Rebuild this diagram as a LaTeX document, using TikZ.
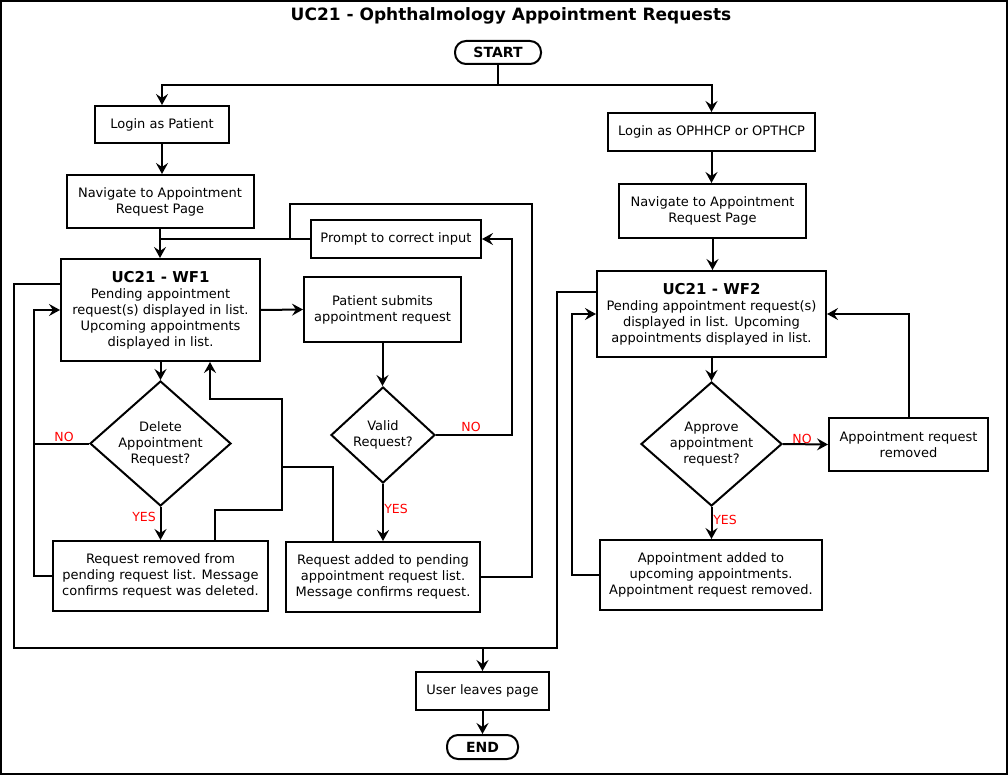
\documentclass[tikz,border=0pt]{standalone}
\usepackage{fontspec}
\setmainfont{DejaVu Sans}
\usetikzlibrary{shapes.geometric,arrows.meta}
\begin{document}
\begin{tikzpicture}[x=1pt,y=-1pt,
  conn/.style={line width=2pt},
  arr/.style={conn,-{Stealth[length=11pt,width=12pt,inset=4pt]}},
  box/.style={draw,line width=2pt,fill=white,align=center,inner sep=2pt,font=\fontsize{13}{16}\selectfont},
  dia/.style={draw,line width=2pt,diamond,aspect=1.2,inner sep=0pt,align=center,font=\fontsize{13}{16}\selectfont},
  term/.style={draw,line width=2pt,rounded corners=11pt,align=center,inner sep=0pt,font=\fontsize{14}{16}\selectfont\bfseries},
  lbl/.style={text=red,inner sep=0pt,font=\fontsize{12.5}{14}\selectfont},
  hd/.style={font=\fontsize{15}{17}\selectfont\bfseries}]
\useasboundingbox (0,0) rectangle (1008,775);
\draw[line width=2pt] (1,1) rectangle (1007,774);
\node[font=\fontsize{17}{20}\selectfont\bfseries] (title) at (511,16) {UC21 - Ophthalmology Appointment Requests};
% nodes
\node[term,minimum width=86pt,minimum height=23pt] (start) at (498,52.5) {START};
\node[box,minimum width=134pt,minimum height=37pt] (loginP) at (162,124.5) {Login as Patient};
\node[box,minimum width=187pt,minimum height=53pt] (navL) at (160,201.5) {Navigate to Appointment\\Request Page};
\node[box,minimum width=170pt,minimum height=38pt] (prompt) at (396,239) {Prompt to correct input};
\node[box,minimum width=199pt,minimum height=102pt] (wf1) at (160.5,310) {{\fontsize{15}{17}\selectfont\bfseries UC21 - WF1}\\Pending appointment\\request(s) displayed in list.\\Upcoming appointments\\displayed in list.};
\node[box,minimum width=157pt,minimum height=65pt] (submit) at (382.5,309.5) {Patient submits\\appointment request};
\node[dia,minimum width=104pt,minimum height=96pt] (valid) at (383,435) {Valid\\Request?};
\node[dia,minimum width=141pt,minimum height=125pt] (delete) at (160.5,443.5) {Delete\\Appointment\\Request?};
\node[box,minimum width=194pt,minimum height=70pt] (added) at (383,577) {Request added to pending\\appointment request list.\\Message confirms request.};
\node[box,minimum width=215pt,minimum height=70pt] (removed) at (160.5,576) {Request removed from\\pending request list. Message\\confirms request was deleted.};
\node[box,minimum width=207pt,minimum height=38pt] (loginO) at (711.5,132) {Login as OPHHCP or OPTHCP};
\node[box,minimum width=187pt,minimum height=54pt] (navR) at (712.5,211) {Navigate to Appointment\\Request Page};
\node[box,minimum width=229pt,minimum height=86pt] (wf2) at (711.5,314) {{\fontsize{15}{17}\selectfont\bfseries UC21 - WF2}\\Pending appointment request(s)\\displayed in list. Upcoming\\appointments displayed in list.};
\node[dia,minimum width=141pt,minimum height=124pt] (approve) at (711.5,444) {Approve\\appointment\\request?};
\node[box,minimum width=159pt,minimum height=53pt] (apprem) at (908.5,444.5) {Appointment request\\removed};
\node[box,minimum width=222pt,minimum height=70pt] (apadd) at (711,575) {Appointment added to\\upcoming appointments.\\Appointment request removed.};
\node[box,minimum width=133pt,minimum height=38pt] (leave) at (482.5,691) {User leaves page};
\node[term,minimum width=71pt,minimum height=24pt] (end) at (482.5,747) {END};
% labels
\node[lbl] (noValid) at (471,427) {NO};
\node[lbl] (yesValid) at (396,508.5) {YES};
\node[lbl] (noDelete) at (64,437) {NO};
\node[lbl] (yesDelete) at (144,517) {YES};
\node[lbl] (noApprove) at (802,438.5) {NO};
\node[lbl] (yesApprove) at (725,520) {YES};
% coordinates
\coordinate (split) at (498,85);
\coordinate (j1) at (290,239);
\coordinate (merge) at (482.5,648);
% connectors
\draw[conn] (start.south) -- (split);
\draw[arr] (split) -| (loginP.north);
\draw[arr] (split) -| (loginO.north);
\draw[arr] (loginP.south) -- (loginP.south |- navL.north);
\draw[arr] (navL.south) -- (navL.south |- wf1.north);
\draw[conn] (prompt.west) -- (prompt.west -| wf1.north);
\draw[conn] (added.east) -| (532,204) -| (j1);
\draw[arr] (wf1.east) -- (submit.west);
\draw[arr] (submit.south) -- (submit.south |- valid.north);
\draw[arr] (valid.east) -- (512,435) |- (prompt.east);
\draw[arr] (valid.south) -- (added.north);
\draw[arr] ([xshift=-50pt]added.north) |- (282,467) -- (282,399) -| ([xshift=49.5pt]wf1.south);
\draw[conn] ([xshift=54.5pt]removed.north) |- (282,510) -- (282,467);
\draw[arr] (wf1.south) -- (delete.north);
\draw[arr] (delete.south) -- (removed.north);
\draw[arr] (removed.west) -- (34,576) |- (wf1.west);
\draw[conn] (delete.west) -- (34,443.5);
\draw[conn] ([yshift=26pt]wf1.west) -| (14,648) -- (merge);
\draw[conn] ([yshift=22pt]wf2.west) -| (557,648) -- (merge);
\draw[arr] (merge) -- (leave.north);
\draw[arr] (leave.south) -- (end.north);
\draw[arr] (loginO.south) -- (loginO.south |- navR.north);
\draw[arr] (navR.south) -- (navR.south |- wf2.north);
\draw[arr] (wf2.south) -- (approve.north);
\draw[arr] (approve.east) -- (apprem.west);
\draw[arr] (apprem.north) |- (wf2.east);
\draw[arr] (approve.south) -- (approve.south |- apadd.north);
\draw[arr] (apadd.west) -- (572,575) |- (wf2.west);
\end{tikzpicture}
\end{document}
